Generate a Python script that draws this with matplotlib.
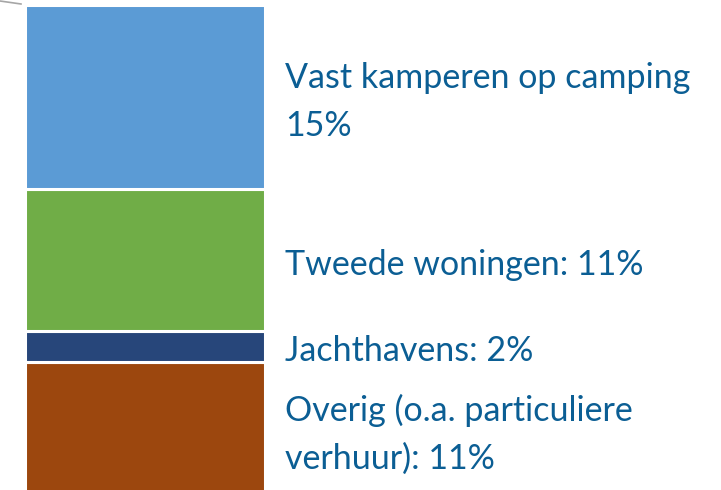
import matplotlib
matplotlib.use("Agg")
import matplotlib.pyplot as plt
from matplotlib.lines import Line2D

# segments, bottom to top (heights, labels as printed)
labels = ["Overig (o.a. particuliere\nverhuur): 11%",
          "Jachthavens: 2%",
          "Tweede woningen: 11%",
          "Vast kamperen op camping\n15%"]
values = [11.0, 2.5, 11.5, 15.0]
colors = ["#9C470E", "#27467A", "#70AD47", "#5B9BD5"]

plt.rcParams['font.family'] = ['Lato', 'DejaVu Sans']

fig = plt.figure(figsize=(7.21, 4.90), dpi=100)
# bar runs off the bottom edge of the picture a little
ax = fig.add_axes([25 / 721, -7 / 490, 240 / 721, 492 / 490])

bottom = 0
for lab, v, c in zip(labels, values, colors):
    ax.bar(0, v, width=1, bottom=bottom, color=c, edgecolor="white", linewidth=2.2)
    ax.text(0.585, bottom + v / 2 - 0.4, lab, va="center", ha="left",
            fontsize=24.5, color="#0B5E94", linespacing=1.6, clip_on=False)
    bottom += v

ax.set_xlim(-0.5, 0.5)
ax.set_ylim(0, bottom)
ax.axis("off")

# grey connector stub in top-left corner
fig.add_artist(Line2D([0, 21 / 721], [1 - 1 / 490, 1 - 4 / 490],
                      transform=fig.transFigure, color="#A6A6A6", linewidth=1.2))

fig.savefig("out.png", dpi=100)
